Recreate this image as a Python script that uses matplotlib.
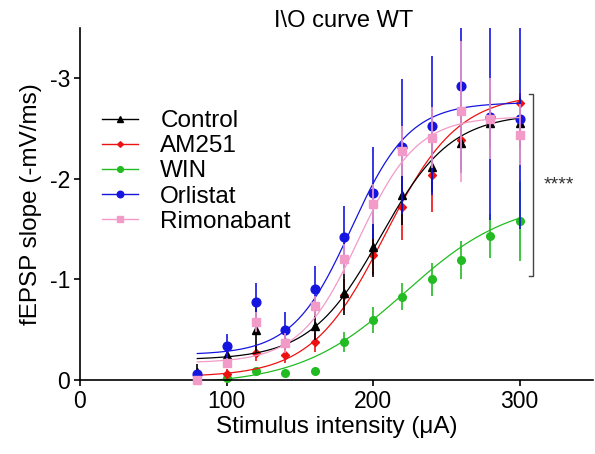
import numpy as np
import matplotlib
matplotlib.use("Agg")
import matplotlib.pyplot as plt
from matplotlib.lines import Line2D

plt.rcParams['font.family'] = ['Liberation Sans', 'DejaVu Sans']
plt.rcParams['axes.unicode_minus'] = False

# ---- data ----
stim = [80, 100, 120, 140, 160, 180, 200, 220, 240, 260, 280, 300]
series_names = ["Control", "AM251", "WIN", "Orlistat", "Rimonabant"]

control = [-0.08, -0.25, -0.50, -0.38, -0.54, -0.87, -1.32, -1.84, -2.12, -2.36, -2.56, -2.56]
control_err = [0.08, 0.05, 0.23, 0.08, 0.14, 0.22, 0.30, 0.30, 0.25, 0.25, 0.25, 0.25]

am251 = [-0.02, -0.06, -0.27, -0.25, -0.38, -0.85, -1.24, -1.72, -2.04, -2.39, -2.62, -2.75]
am251_err = [0.02, 0.05, 0.08, 0.08, 0.10, 0.15, 0.20, 0.33, 0.37, 0.30, 0.25, 0.10]

win = [-0.01, -0.02, -0.09, -0.07, -0.09, -0.38, -0.60, -0.83, -1.00, -1.19, -1.43, -1.58]
win_err = [0.01, 0.02, 0.02, 0.02, 0.02, 0.10, 0.13, 0.13, 0.16, 0.19, 0.22, 0.40]

orlistat = [-0.06, -0.34, -0.78, -0.50, -0.90, -1.42, -1.86, -2.32, -2.53, -2.92, -2.62, -2.60]
orlistat_err = [0.03, 0.12, 0.18, 0.18, 0.23, 0.31, 0.46, 0.67, 0.69, 0.86, 1.03, 1.10]

rimonabant = [0.0, -0.17, -0.58, -0.37, -0.74, -1.20, -1.75, -2.28, -2.41, -2.67, -2.60, -2.44]
rimonabant_err = [0.02, 0.05, 0.10, 0.10, 0.10, 0.15, 0.20, 0.25, 0.30, 0.70, 0.40, 0.30]

# Boltzmann fit parameters: bottom, top, V50, slope
fit_control = [-0.20, -2.65, 205, 24]
fit_am251 = [-0.03, -2.85, 208, 25]
fit_win = [0.05, -1.80, 222, 36]
fit_orlistat = [-0.25, -2.76, 185, 20]
fit_rimonabant = [-0.17, -2.62, 190, 20]

sig_text = "****"
sig_range = [-2.84, -1.03]

# ---- styles ----
colors = ["#000000", "#ee1111", "#22bb22", "#1515e0", "#f29ac8"]
markers = ["^", "D", "o", "o", "s"]
msizes = [5.5, 3.8, 5.5, 6.3, 5.5]
zorders = [4, 3, 2, 5, 6]

values = [control, am251, win, orlistat, rimonabant]
errs = [control_err, am251_err, win_err, orlistat_err, rimonabant_err]
fits = [fit_control, fit_am251, fit_win, fit_orlistat, fit_rimonabant]

fig = plt.figure(figsize=(5.95, 4.54), dpi=100)
ax = fig.add_axes([80/595, 74/454, 513/595, 352/454])

xs = np.linspace(stim[0], stim[-1], 300)
for name, v, e, f, c, m, ms, z in zip(series_names, values, errs, fits, colors, markers, msizes, zorders):
    b, t, v50, s = f
    ax.plot(xs, b + (t - b) / (1 + np.exp((v50 - xs) / s)), color=c, lw=0.9, zorder=z)
    ax.errorbar(stim, v, yerr=e, fmt='none', ecolor=c, elinewidth=1.2, capsize=0, zorder=z)
    ax.plot(stim, v, linestyle='none', marker=m, ms=ms, color=c, mec=c, zorder=z + 0.5, clip_on=False)

ax.set_xlim(0, 350)
ax.set_ylim(0, -3.5)
ax.set_xticks([0, 100, 200, 300])
ax.set_yticks([0, -1, -2, -3])
for sp in ['top', 'right']:
    ax.spines[sp].set_visible(False)
for sp in ['left', 'bottom']:
    ax.spines[sp].set_linewidth(1.2)
ax.tick_params(direction='out', length=4, width=1.2, labelsize=16.5, pad=3)

ax.set_xlabel("Stimulus intensity (\u03bcA)", fontsize=17.5, labelpad=2)
ax.set_ylabel("fEPSP slope (-mV/ms)", fontsize=17.5, labelpad=6)
fig.text(344/595, 1 - 21/454, "I\\O curve WT", fontsize=17, ha='center', va='center')

# significance bracket
bx = 309
ax.plot([bx - 3, bx, bx, bx - 3], [sig_range[0], sig_range[0], sig_range[1], sig_range[1]],
        color='#444444', lw=1.0, clip_on=False)
ax.text(bx + 7, (sig_range[0] + sig_range[1]) / 2, sig_text, fontsize=14, ha='left', va='center', color='#333333')

handles = [Line2D([0], [0], color=c, marker=m, ms=ms * 0.75, lw=1.0) for c, m, ms in zip(colors, markers, msizes)]
leg = ax.legend(handles, series_names, loc='upper left', bbox_to_anchor=(22/513, 1 - 82/352),
                frameon=False, fontsize=17.5, handlelength=1.5, handletextpad=0.9,
                labelspacing=0.13, borderpad=0, borderaxespad=0)

fig.savefig("out.png", dpi=100)
